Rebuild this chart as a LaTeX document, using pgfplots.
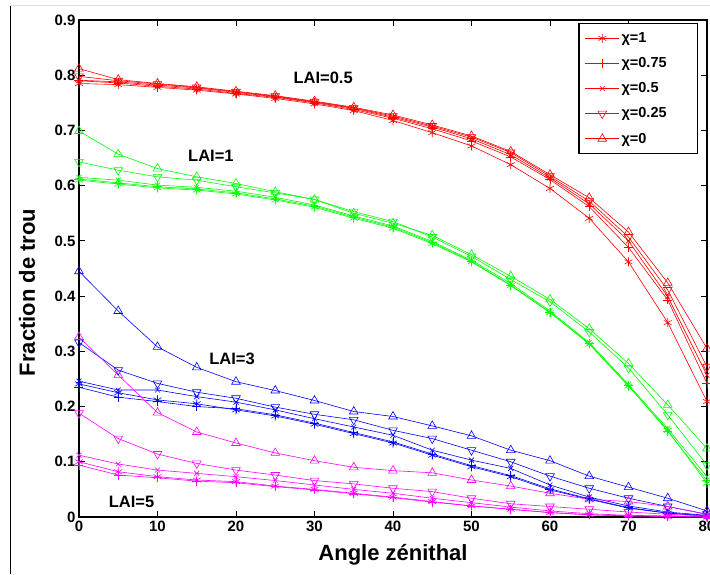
\documentclass[border=0pt]{standalone}
\usepackage{pgfplots}
\pgfplotsset{compat=1.18}
\usepackage{pgfplotstable}
\usepackage{fontspec}
\setmainfont{Liberation Sans}

\definecolor{cR}{rgb}{1,0,0}
\definecolor{cG}{rgb}{0,1,0}
\definecolor{cB}{rgb}{0,0,1}
\definecolor{cM}{rgb}{1,0,1}

% LAI = 0.5
\pgfplotstableread{
x  c1    c075  c05   c025  c0
0  0.785 0.790 0.791 0.798 0.812
5  0.783 0.786 0.788 0.790 0.792
10 0.778 0.780 0.782 0.784 0.785
15 0.773 0.775 0.777 0.778 0.779
20 0.766 0.767 0.769 0.770 0.771
25 0.758 0.760 0.761 0.762 0.763
30 0.748 0.750 0.751 0.752 0.753
35 0.736 0.738 0.740 0.741 0.742
40 0.718 0.722 0.724 0.726 0.728
45 0.696 0.703 0.706 0.708 0.710
50 0.672 0.681 0.685 0.688 0.690
55 0.638 0.652 0.656 0.660 0.662
60 0.595 0.611 0.614 0.617 0.620
65 0.541 0.562 0.567 0.572 0.578
70 0.462 0.488 0.500 0.507 0.516
75 0.352 0.393 0.399 0.411 0.424
80 0.209 0.242 0.257 0.272 0.305
}\tabA

% LAI = 1
\pgfplotstableread{
x  c1    c075  c05   c025  c0
0  0.610 0.612 0.615 0.643 0.699
5  0.603 0.605 0.610 0.628 0.657
10 0.596 0.598 0.601 0.616 0.631
15 0.592 0.594 0.597 0.610 0.616
20 0.585 0.587 0.590 0.598 0.604
25 0.574 0.576 0.579 0.587 0.589
30 0.561 0.563 0.565 0.575 0.575
35 0.541 0.543 0.545 0.553 0.550
40 0.523 0.525 0.527 0.535 0.532
45 0.495 0.497 0.499 0.507 0.510
50 0.462 0.463 0.465 0.472 0.475
55 0.419 0.420 0.423 0.430 0.436
60 0.370 0.371 0.373 0.390 0.394
65 0.313 0.314 0.316 0.335 0.341
70 0.237 0.238 0.240 0.270 0.278
75 0.157 0.155 0.160 0.185 0.203
80 0.061 0.066 0.073 0.094 0.124
}\tabB

% LAI = 3
\pgfplotstableread{
x  c1    c075  c05   c025  c0
0  0.241 0.235 0.246 0.316 0.445
5  0.225 0.217 0.230 0.266 0.373
10 0.212 0.209 0.230 0.242 0.308
15 0.205 0.200 0.218 0.226 0.271
20 0.194 0.196 0.208 0.215 0.245
25 0.183 0.185 0.194 0.199 0.229
30 0.168 0.170 0.178 0.186 0.211
35 0.151 0.153 0.163 0.176 0.191
40 0.134 0.136 0.148 0.157 0.182
45 0.112 0.114 0.121 0.142 0.165
50 0.091 0.093 0.103 0.121 0.147
55 0.073 0.075 0.088 0.100 0.121
60 0.049 0.051 0.058 0.074 0.102
65 0.032 0.033 0.036 0.052 0.074
70 0.016 0.017 0.020 0.034 0.054
75 0.007 0.007 0.009 0.019 0.034
80 0.002 0.002 0.003 0.005 0.011
}\tabC

% LAI = 5
\pgfplotstableread{
x  c1    c075  c05   c025  c0
0  0.100 0.094 0.112 0.188 0.326
5  0.082 0.076 0.096 0.142 0.257
10 0.073 0.071 0.085 0.114 0.189
15 0.067 0.065 0.079 0.097 0.154
20 0.064 0.062 0.073 0.085 0.134
25 0.056 0.055 0.066 0.076 0.116
30 0.050 0.049 0.058 0.066 0.102
35 0.043 0.042 0.050 0.060 0.090
40 0.036 0.035 0.043 0.052 0.084
45 0.028 0.027 0.034 0.046 0.080
50 0.020 0.020 0.026 0.034 0.067
55 0.014 0.014 0.018 0.024 0.056
60 0.008 0.008 0.011 0.019 0.043
65 0.004 0.004 0.006 0.014 0.032
70 0.002 0.002 0.003 0.009 0.028
75 0.001 0.001 0.002 0.005 0.019
80 0.000 0.000 0.001 0.002 0.005
}\tabD

\pgfplotsset{
  sA/.style={line width=0.6pt, mark=asterisk, mark size=4.5pt, mark options={solid, line width=0.6pt}},
  sB/.style={line width=0.6pt, mark=+, mark size=4.5pt, mark options={solid, line width=0.6pt}},
  sC/.style={line width=0.6pt, mark=x, mark size=3.5pt, mark options={solid, line width=0.6pt}},
  sD/.style={line width=0.6pt, mark=triangle, mark size=5pt, mark options={solid, line width=0.6pt, rotate=180}},
  sE/.style={line width=0.6pt, mark=triangle, mark size=5pt, mark options={solid, line width=0.6pt}},
}

\begin{document}
\begin{tikzpicture}
\useasboundingbox (-79pt,-57pt) rectangle (631pt,517pt);
\draw[black!12, line width=1pt] (-69pt,511pt) -- (631pt,511pt);
\draw[black, line width=0.8pt] (-69pt,511pt) -- (-69pt,-57pt);
\begin{axis}[
  at={(0pt,0pt)}, anchor=south west,
  scale only axis, width=628pt, height=497pt,
  xmin=0, xmax=80, ymin=0, ymax=0.9,
  xtick={0,10,20,30,40,50,60,70,80},
  xticklabels={0,10,20,30,40,50,60,70,80},
  ytick={0,0.1,0.2,0.3,0.4,0.5,0.6,0.7,0.8,0.9},
  yticklabels={0,0.1,0.2,0.3,0.4,0.5,0.6,0.7,0.8,0.9},
  tick align=inside, major tick length=6pt,
  axis line style={line width=1.3pt},
  tick style={black, line width=0.8pt},
  /pgf/number format/assume math mode=true,
  tick label style={font=\bfseries\fontsize{15}{18}\selectfont},
  xlabel={Angle zénithal},
  ylabel={Fraction de trou},
  label style={font=\bfseries\fontsize{22}{26}\selectfont},
  xlabel style={at={(axis description cs:0.5,0)}, anchor=base, yshift=-43pt},
  ylabel style={at={(axis description cs:0,0.452)}, anchor=center, rotate=0, yshift=52pt},
  legend style={at={(0.986,0.994)}, anchor=north east, draw=black, line width=1.2pt,
    fill=white, font=\bfseries\fontsize{14.5}{16}\selectfont, row sep=9.5pt,
    inner xsep=6pt, inner ysep=7pt},
  legend cell align=left,
  legend image code/.code={\draw[mark repeat=2,mark phase=2,#1] plot coordinates {(0pt,0pt) (17pt,0pt) (34pt,0pt)};},
]
% LAI = 0.5 (red)
\addplot[cR, sA] table[x=x,y=c1]   {\tabA};
\addlegendentry{\makebox[68pt][l]{χ=1}}
\addplot[cR, sB] table[x=x,y=c075] {\tabA};
\addlegendentry{χ=0.75}
\addplot[cR, sC] table[x=x,y=c05]  {\tabA};
\addlegendentry{χ=0.5}
\addplot[cR, sD] table[x=x,y=c025] {\tabA};
\addlegendentry{χ=0.25}
\addplot[cR, sE] table[x=x,y=c0]   {\tabA};
\addlegendentry{χ=0}
% LAI = 1 (green)
\addplot[cG, sA, forget plot] table[x=x,y=c1]   {\tabB};
\addplot[cG, sB, forget plot] table[x=x,y=c075] {\tabB};
\addplot[cG, sC, forget plot] table[x=x,y=c05]  {\tabB};
\addplot[cG, sD, forget plot] table[x=x,y=c025] {\tabB};
\addplot[cG, sE, forget plot] table[x=x,y=c0]   {\tabB};
% LAI = 3 (blue)
\addplot[cB, sA, forget plot] table[x=x,y=c1]   {\tabC};
\addplot[cB, sB, forget plot] table[x=x,y=c075] {\tabC};
\addplot[cB, sC, forget plot] table[x=x,y=c05]  {\tabC};
\addplot[cB, sD, forget plot] table[x=x,y=c025] {\tabC};
\addplot[cB, sE, forget plot] table[x=x,y=c0]   {\tabC};
% LAI = 5 (magenta)
\addplot[cM, sA, forget plot] table[x=x,y=c1]   {\tabD};
\addplot[cM, sB, forget plot] table[x=x,y=c075] {\tabD};
\addplot[cM, sC, forget plot] table[x=x,y=c05]  {\tabD};
\addplot[cM, sD, forget plot] table[x=x,y=c025] {\tabD};
\addplot[cM, sE, forget plot] table[x=x,y=c0]   {\tabD};

\node[font=\bfseries\fontsize{16.5}{18}\selectfont] at (axis cs:31.1,0.796) {LAI=0.5};
\node[font=\bfseries\fontsize{16.5}{18}\selectfont] at (axis cs:16.8,0.654) {LAI=1};
\node[font=\bfseries\fontsize{16.5}{18}\selectfont] at (axis cs:19.5,0.286) {LAI=3};
\node[font=\bfseries\fontsize{16.5}{18}\selectfont] at (axis cs:6.7,0.027) {LAI=5};
\end{axis}
\end{tikzpicture}
\end{document}
